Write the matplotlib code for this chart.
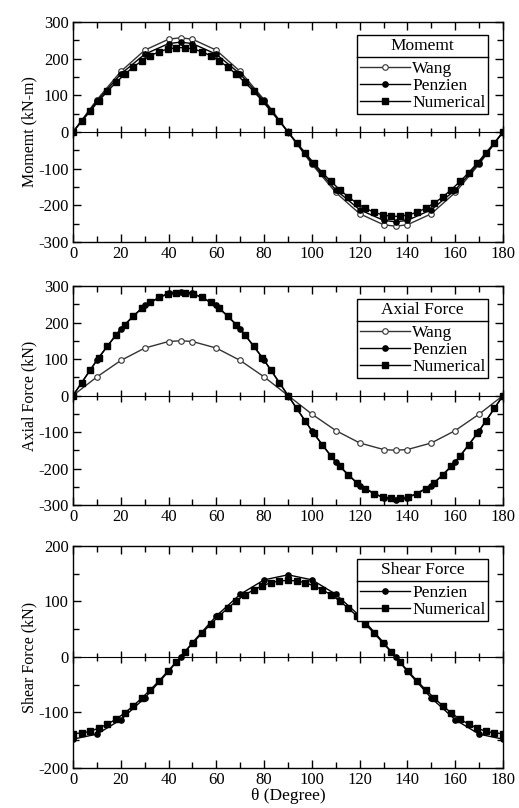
import matplotlib
matplotlib.use('Agg')
from matplotlib import pyplot as plt
from matplotlib.lines import Line2D
from matplotlib.ticker import MultipleLocator, NullFormatter

plt.rcParams['font.family'] = ['Liberation Serif', 'DejaVu Serif']
plt.rcParams['axes.unicode_minus'] = False

# analytical solutions, every 10 deg plus the peaks
theta_a = [0, 10, 20, 30, 40, 45, 50, 60, 70, 80, 90,
           100, 110, 120, 130, 135, 140, 150, 160, 170, 180]
# numerical solution, every 3.6 deg
theta_n = [0, 3.6, 7.2, 10.8, 14.4, 18, 21.6, 25.2, 28.8, 32.4, 36, 39.6, 43.2,
           46.8, 50.4, 54, 57.6, 61.2, 64.8, 68.4, 72, 75.6, 79.2, 82.8, 86.4, 90,
           93.6, 97.2, 100.8, 104.4, 108, 111.6, 115.2, 118.8, 122.4, 126, 129.6,
           133.2, 136.8, 140.4, 144, 147.6, 151.2, 154.8, 158.4, 162, 165.6, 169.2,
           172.8, 176.4, 180]

moment_wang = [0, 88, 165, 223, 253, 257, 253, 223, 165, 88, 0,
               -88, -165, -223, -253, -257, -253, -223, -165, -88, 0]
moment_penzien = [0, 84, 158, 212, 241, 245, 241, 212, 158, 84, 0,
                  -84, -158, -212, -241, -245, -241, -212, -158, -84, 0]
moment_num = [0, 29, 57, 85, 111, 135, 157, 177, 194, 208, 219, 226, 230,
              230, 226, 219, 208, 194, 177, 157, 135, 111, 85, 57, 29, 0,
              -29, -57, -85, -111, -135, -157, -177, -194, -208, -219, -226, -230,
              -230, -226, -219, -208, -194, -177, -157, -135, -111, -85, -57, -29, 0]

axial_wang = [0, 51, 96, 130, 148, 150, 148, 130, 96, 51, 0,
              -51, -96, -130, -148, -150, -148, -130, -96, -51, 0]
axial_penzien = [0, 97, 183, 247, 281, 285, 281, 247, 183, 97, 0,
                 -97, -183, -247, -281, -285, -281, -247, -183, -97, 0]
axial_num = [0, 35, 70, 104, 136, 166, 194, 218, 239, 256, 269, 278, 282,
             282, 278, 269, 256, 239, 218, 194, 166, 136, 104, 70, 35, 0,
             -35, -70, -104, -136, -166, -194, -218, -239, -256, -269, -278, -282,
             -282, -278, -269, -256, -239, -218, -194, -166, -136, -104, -70, -35, 0]

shear_penzien = [-148, -139, -113, -74, -26, 0, 26, 74, 113, 139, 148,
                 139, 113, 74, 26, 0, -26, -74, -113, -139, -148]
shear_num = [-138, -137, -134, -128, -121, -112, -101, -88, -74, -59, -43, -26, -9,
             9, 26, 43, 59, 74, 88, 101, 112, 121, 128, 134, 137, 138,
             137, 134, 128, 121, 112, 101, 88, 74, 59, 43, 26, 9,
             -9, -26, -43, -59, -74, -88, -101, -112, -121, -128, -134, -137, -138]

fig = plt.figure(figsize=(5.19, 8.08), dpi=100)

panels = [
    # (axes rect, ylim, ylabel, legend title, series)
    ([0.1407, 0.7005, 0.8285, 0.2723], 300, 'Momemt (kN-m)', 'Momemt',
     [moment_wang, moment_penzien, moment_num]),
    ([0.1407, 0.3750, 0.8285, 0.2710], 300, 'Axial Force (kN)', 'Axial Force',
     [axial_wang, axial_penzien, axial_num]),
    ([0.1407, 0.0495, 0.8285, 0.2748], 200, 'Shear Force (kN)', 'Shear Force',
     [None, shear_penzien, shear_num]),
]

legends = []
for rect, lim, ylab, title, series in panels:
    ax = fig.add_axes(rect)
    wang, penz, num = series
    if wang is not None:
        ax.plot(theta_a, wang, '-', color='#333333', lw=1.0, marker='o', ms=4,
                mfc='white', mec='#333333', mew=0.8, label='Wang')
    ax.plot(theta_a, penz, '-', color='black', lw=1.0, marker='o', ms=3.8,
            mfc='black', mec='black', label='Penzien')
    ax.plot(theta_n, num, '-', color='black', lw=1.0, marker='s', ms=4.6,
            mfc='black', mec='black', label='Numerical')

    ax.set_xlim(0, 180)
    ax.set_ylim(-lim, lim)
    ax.xaxis.set_major_locator(MultipleLocator(20))
    ax.xaxis.set_minor_locator(MultipleLocator(10))
    ax.yaxis.set_major_locator(MultipleLocator(100))
    ax.yaxis.set_minor_locator(MultipleLocator(50))
    ax.tick_params(which='both', direction='in', top=True, right=True,
                   labelsize=12, pad=3)
    ax.tick_params(which='major', length=6, width=1.0)
    ax.tick_params(which='minor', length=4, width=1.0)
    for s in ax.spines.values():
        s.set_linewidth(1.0)
    ax.set_ylabel(ylab, fontsize=11.5, labelpad=1)

    # zero axis with ticks crossing it
    zero = ax.secondary_xaxis(0.5)
    zero.xaxis.set_major_locator(MultipleLocator(20))
    zero.xaxis.set_minor_locator(MultipleLocator(10))
    zero.xaxis.set_major_formatter(NullFormatter())
    zero.tick_params(which='both', direction='inout')
    zero.tick_params(which='major', length=8, width=1.0)
    zero.tick_params(which='minor', length=6, width=1.0)
    zero.spines['bottom'].set_linewidth(1.0)

    leg = ax.legend(title=title, loc='upper right', bbox_to_anchor=(0.965, 0.94),
                    borderaxespad=0, fontsize=12.5, title_fontsize=12.5,
                    handlelength=2.9, handletextpad=0.1, labelspacing=0.05,
                    borderpad=0.15, fancybox=False, framealpha=1, edgecolor='black')
    leg.get_frame().set_linewidth(1.0)
    leg._legend_box.sep = 5
    legends.append(leg)
    if title == 'Shear Force':
        ax.set_xlabel('θ (Degree)', fontsize=12.5, labelpad=0)

# rule under each legend title
fig.canvas.draw()
r = fig.canvas.get_renderer()
inv = fig.transFigure.inverted()
for leg in legends:
    fb = leg.get_frame().get_window_extent(r)
    tb = leg.get_title().get_window_extent(r)
    first = leg.get_texts()[0].get_window_extent(r)
    y = 0.5 * (tb.y0 + first.y1)
    x0, y0 = inv.transform((fb.x0, y))
    x1, _ = inv.transform((fb.x1, y))
    fig.add_artist(Line2D([x0, x1], [y0, y0], transform=fig.transFigure,
                          color='black', lw=1.0))

fig.savefig('out.png', dpi=100)
